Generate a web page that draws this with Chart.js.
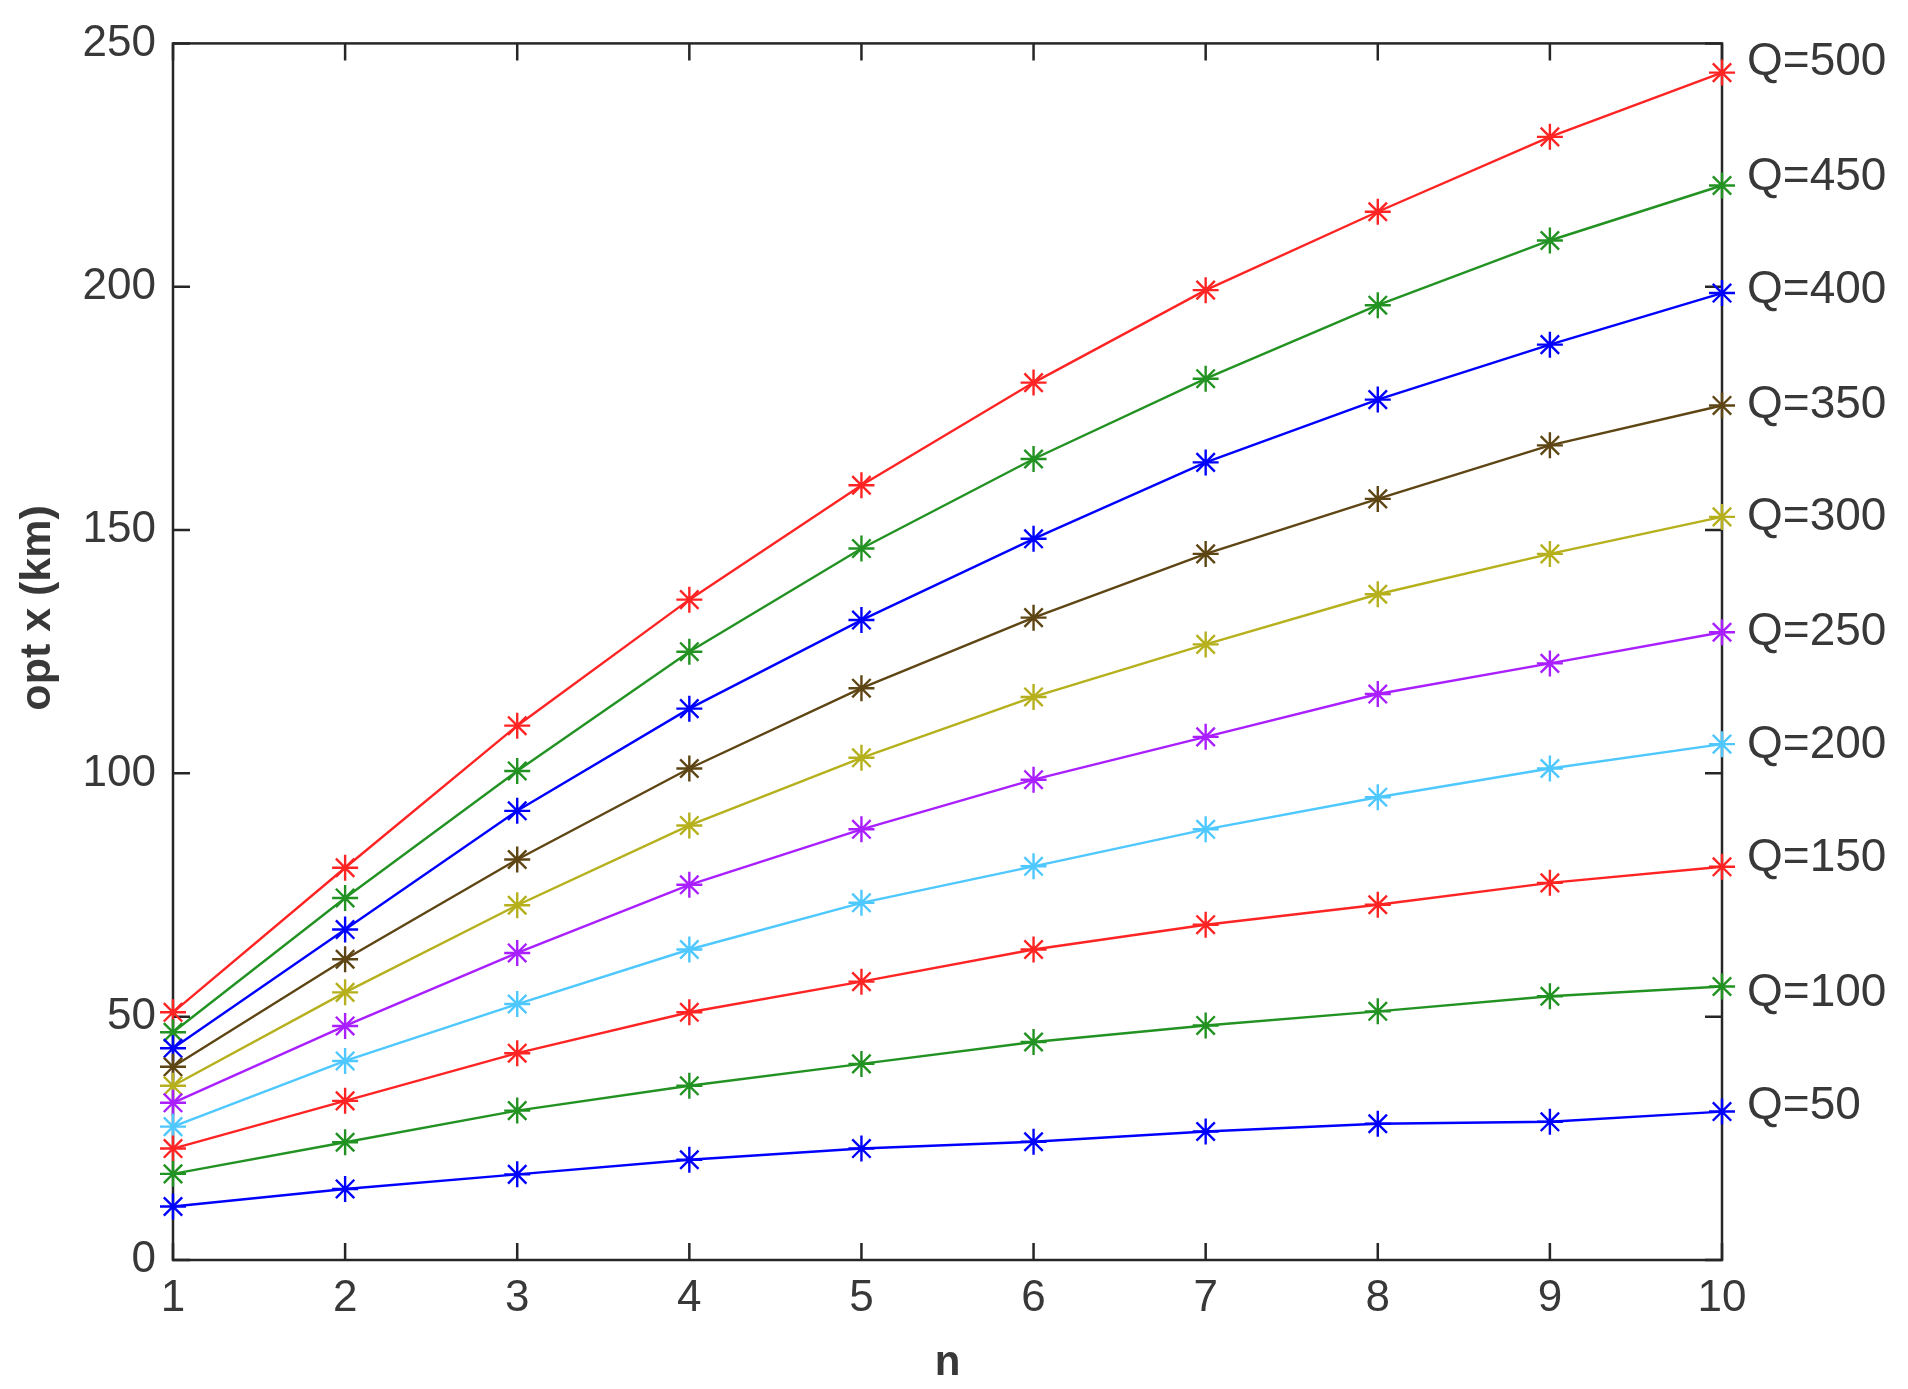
<!DOCTYPE html>
<html>
<head>
<meta charset="utf-8">
<script src="https://cdn.jsdelivr.net/npm/chart.js@4.4.0/dist/chart.umd.min.js"></script>
<style>
  html, body { margin: 0; padding: 0; background: #fff; }
</style>
</head>
<body>
<canvas id="optx" width="1908" height="1389"></canvas>
<script>
// n on the x axis
const nValues = [1, 2, 3, 4, 5, 6, 7, 8, 9, 10];

// opt x (km) for each Q
const q50  = [11.0, 14.6, 17.6, 20.6, 22.9, 24.3, 26.4, 28.0, 28.4, 30.5];
const q100 = [17.7, 24.2, 30.7, 35.8, 40.3, 44.8, 48.2, 51.1, 54.2, 56.2];
const q150 = [22.9, 32.7, 42.5, 50.9, 57.2, 63.8, 68.9, 73.0, 77.5, 80.8];
const q200 = [27.4, 40.9, 52.6, 63.8, 73.4, 80.9, 88.5, 95.1, 101.0, 106.0];
const q250 = [32.3, 48.1, 63.1, 77.1, 88.5, 98.7, 107.5, 116.3, 122.6, 129.0];
const q300 = [35.8, 55.0, 72.9, 89.3, 103.2, 115.7, 126.5, 136.8, 145.1, 152.7];
const q350 = [39.7, 61.8, 82.3, 101.0, 117.5, 132.0, 145.1, 156.4, 167.4, 175.6];
const q400 = [43.5, 67.9, 92.3, 113.3, 131.5, 148.2, 163.9, 176.8, 188.1, 198.7];
const q450 = [46.8, 74.4, 100.5, 125.0, 146.2, 164.6, 181.1, 196.2, 209.5, 220.8];
const q500 = [50.9, 80.6, 109.8, 135.7, 159.2, 180.3, 199.3, 215.4, 230.8, 244.0];

const seriesLabels = ['Q=50', 'Q=100', 'Q=150', 'Q=200', 'Q=250', 'Q=300', 'Q=350', 'Q=400', 'Q=450', 'Q=500'];
// where the text labels sit (in y units), just right of the box
const labelYs = [32.3, 55.4, 83.2, 106.5, 129.6, 153.3, 176.4, 200.0, 223.2, 246.7];
const yTicks = [0, 50, 100, 150, 200, 250];

const allSeries = [q50, q100, q150, q200, q250, q300, q350, q400, q450, q500];
const colors = ['#0000ff', '#229222', '#ff2424', '#4ec8ff', '#a91fff',
                '#b5b01c', '#5e4514', '#0000ff', '#229222', '#ff2424'];

const FONT = "'Liberation Sans', Arial, sans-serif";
const AXIS = '#262626';
const TEXT = '#383838';

// box round the plot with inward ticks on all four sides
const boxPlugin = {
  id: 'box',
  beforeDatasetsDraw(chart) {
    const {ctx, chartArea: a, scales} = chart;
    const len = 17;
    ctx.save();
    ctx.strokeStyle = AXIS;
    ctx.lineWidth = 2.5;
    ctx.strokeRect(a.left, a.top, a.right - a.left, a.bottom - a.top);
    ctx.beginPath();
    scales.x.ticks.forEach(t => {
      const px = scales.x.getPixelForValue(t.value);
      ctx.moveTo(px, a.bottom); ctx.lineTo(px, a.bottom - len);
      ctx.moveTo(px, a.top); ctx.lineTo(px, a.top + len);
    });
    scales.y.ticks.forEach(t => {
      const py = scales.y.getPixelForValue(t.value);
      ctx.moveTo(a.left, py); ctx.lineTo(a.left + len, py);
      ctx.moveTo(a.right, py); ctx.lineTo(a.right - len, py);
    });
    ctx.stroke();
    ctx.restore();
  }
};

// "Q=..." text next to each curve end, plus the y axis title
const textPlugin = {
  id: 'texts',
  afterDatasetsDraw(chart) {
    const {ctx, chartArea: a, scales} = chart;
    ctx.save();
    ctx.font = '46px ' + FONT;
    ctx.fillStyle = TEXT;
    ctx.textAlign = 'left';
    ctx.textBaseline = 'alphabetic';
    seriesLabels.forEach((lbl, i) => {
      const py = scales.y.getPixelForValue(labelYs[i]);
      ctx.fillText(lbl, a.right + 25, py + 16);
    });
    // y title sits a bit above the middle of the axis in the original
    ctx.translate(38, scales.y.getPixelForValue(134));
    ctx.rotate(-Math.PI / 2);
    ctx.textAlign = 'center';
    ctx.textBaseline = 'middle';
    ctx.font = 'bold 43px ' + FONT;
    ctx.fillText('opt x (km)', 0, 0);
    ctx.restore();
  }
};

const datasets = allSeries.map((s, i) => ({
  label: seriesLabels[i],
  data: s.map((v, k) => ({x: nValues[k], y: v})),
  borderColor: colors[i],
  backgroundColor: colors[i],
  borderWidth: 2.4,
  pointStyle: 'star',
  pointRadius: 13,
  pointBorderWidth: 2.4,
  pointBorderColor: colors[i],
  tension: 0,
  clip: false
}));

new Chart(document.getElementById('optx'), {
  type: 'line',
  data: { datasets: datasets },
  options: {
    responsive: false,
    devicePixelRatio: 1,
    animation: false,
    events: [],
    layout: { padding: { left: 0, top: 34, right: 186, bottom: 0 } },
    plugins: { legend: { display: false }, tooltip: { enabled: false } },
    scales: {
      x: {
        type: 'linear',
        min: 1, max: 10,
        grid: { display: false, drawTicks: false },
        border: { display: false },
        ticks: { stepSize: 1, padding: 12, color: TEXT, font: { family: FONT, size: 44 } },
        title: { display: true, text: 'n', color: TEXT, padding: { top: 11, bottom: 0 },
                 font: { family: FONT, size: 42, weight: 'bold' } },
        afterFit(scale) { scale.height = 129; }
      },
      y: {
        type: 'linear',
        min: 0, max: 250,
        afterBuildTicks(scale) { scale.ticks = yTicks.map(v => ({value: v})); },
        grid: { display: false, drawTicks: false },
        border: { display: false },
        ticks: { padding: 17, color: TEXT, font: { family: FONT, size: 44 } },
        afterFit(scale) { scale.width = 173; }
      }
    }
  },
  plugins: [boxPlugin, textPlugin]
});
</script>
</body>
</html>
